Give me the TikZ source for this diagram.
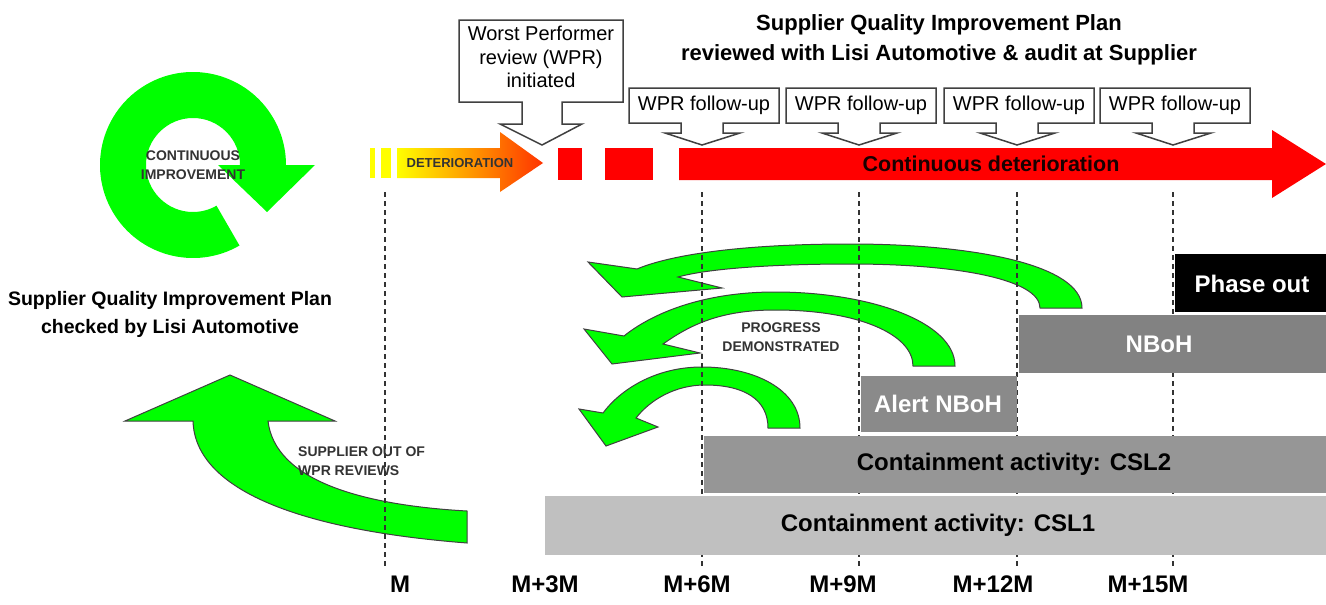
\documentclass[tikz,border=0pt]{standalone}
\usepackage{fontspec}
\setmainfont{Liberation Sans}
\usetikzlibrary{calc}
\definecolor{grn}{HTML}{00FF00}
\definecolor{redc}{HTML}{FF0000}
\definecolor{yel}{HTML}{FFFF00}
\definecolor{csla}{HTML}{C0C0C0}
\definecolor{cslb}{HTML}{969696}
\definecolor{alertc}{HTML}{8A8A8A}
\definecolor{nbohc}{HTML}{828282}
\definecolor{txtgray}{HTML}{333333}
\definecolor{callgray}{HTML}{404040}
\definecolor{linegray}{HTML}{333333}
\definecolor{orng}{HTML}{FF3300}
\tikzset{
  titletext/.style={font=\bfseries\fontsize{22}{30}\selectfont, align=center, inner sep=0pt},
  axislabel/.style={font=\bfseries\fontsize{24}{28}\selectfont, inner sep=0pt},
  boxtext/.style={font=\bfseries\fontsize{24}{28}\selectfont, inner sep=0pt},
  calltext/.style={font=\fontsize{20}{23.5}\selectfont, align=center, inner sep=0pt},
  tinytext/.style={font=\bfseries\fontsize{14}{19}\selectfont, text=txtgray, align=center, inner sep=0pt},
  bar/.style={inner sep=0pt, outer sep=0pt, anchor=north west, draw=none},
  callout/.style={draw=callgray, line width=1.5pt, fill=white, line join=miter},
  vline/.style={draw=linegray, line width=1.5pt, dash pattern=on 5pt off 4pt},
  greenarrow/.style={fill=grn, draw=black!75, line width=1pt, line join=miter},
  pics/wprcall/.style={code={
    \draw[callout] (-73,-17) -- (77,-17) -- (77,18) -- (21,18) -- (21,28) -- (38,28)
      -- (0,40) -- (-37,28) -- (-21,28) -- (-21,18) -- (-73,18) -- cycle;
    \node[calltext] (t) at (2,0) {WPR follow-up};
  }}
}
\begin{document}
\begin{tikzpicture}[x=1pt,y=-1pt]
\useasboundingbox[fill=white] (0,0) rectangle (1326,605);

% ---------- continuous improvement ring ----------
\fill[grn] ($(193,165)+(60:93)$) arc[start angle=60, end angle=360, radius=93]
  -- (315,165) -- (267,212) -- (218,165) -- (240,165)
  arc[start angle=360, end angle=60, radius=47] -- cycle;
\node[tinytext] (ci) at (193,165) {CONTINUOUS\\IMPROVEMENT};

% ---------- left texts ----------
\node[font=\bfseries\fontsize{19.5}{28}\selectfont, align=center, inner sep=0pt] (leftplan) at (170,314)
  {Supplier Quality Improvement Plan\\checked by Lisi Automotive};

% ---------- big left green arrow ----------
\draw[greenarrow] (467,511) .. controls (360,505) and (275,480) .. (268,421)
  -- (335,421) -- (230,375) -- (125,421) -- (193,421)
  .. controls (195,490) and (300,530) .. (467,543) -- cycle;
\node[tinytext, align=left, anchor=west] (outwpr) at (298,461) {SUPPLIER OUT OF\\WPR REVIEWS};

% ---------- curved green arrows ----------
\draw[greenarrow] (1082,308) .. controls (1082,265) and (975,244) .. (850,244)
  .. controls (740,244) and (670,255) .. (637,269)
  -- (588,262) -- (622,297) -- (722,288) -- (678,277)
  .. controls (710,268) and (780,264) .. (850,264)
  .. controls (960,264) and (1040,280) .. (1040,308) -- cycle;
\draw[greenarrow] (955,366) .. controls (955,322) and (870,292) .. (775,292)
  .. controls (700,292) and (650,315) .. (624,336)
  -- (584,329) -- (612,364) -- (700,353) -- (663,344)
  .. controls (690,325) and (720,310) .. (775,310)
  .. controls (860,310) and (913,335) .. (913,366) -- cycle;
\draw[greenarrow] (800,428) .. controls (800,390) and (755,367) .. (702,367)
  .. controls (655,367) and (620,390) .. (603,413)
  -- (579,409) -- (606,446) -- (658,427) -- (636,418)
  .. controls (650,400) and (675,385) .. (705,385)
  .. controls (745,385) and (768,400) .. (768,428) -- cycle;
\node[tinytext] (progress) at (781,337) {PROGRESS\\DEMONSTRATED};

% ---------- dashed time lines ----------
\coordinate (m0a) at (385,192);  \coordinate (m0b) at (385,568);
\coordinate (m6a) at (702,192);  \coordinate (m6b) at (702,568);
\coordinate (m9a) at (859,192);  \coordinate (m9b) at (859,568);
\coordinate (m12a) at (1017,192); \coordinate (m12b) at (1017,568);
\coordinate (m15a) at (1173,192); \coordinate (m15b) at (1173,568);
\draw[vline] (m0a) -- (m0b);
\draw[vline] (m6a) -- (m6b);
\draw[vline] (m9a) -- (m9b);
\draw[vline] (m12a) -- (m12b);
\draw[vline] (m15a) -- (m15b);

% ---------- bars ----------
\node[bar, fill=csla, minimum width=781pt, minimum height=59pt] (csl1) at (545,496) {};
\node[bar, fill=cslb, minimum width=622pt, minimum height=57pt] (csl2) at (704,436) {};
\node[bar, fill=alertc, minimum width=156pt, minimum height=56pt] (alert) at (861,376) {};
\node[bar, fill=nbohc, minimum width=307pt, minimum height=58pt] (nboh) at (1019,315) {};
\node[bar, fill=black, minimum width=151pt, minimum height=58pt] (phase) at (1175,254) {};
\node[boxtext] (csl1t) at (938,525) {Containment activity: CSL1};
\node[boxtext] (csl2t) at (1014,464) {Containment activity: CSL2};
\node[boxtext, text=white] (alertt) at (938,404) {Alert NBoH};
\node[boxtext, text=white] (nboht) at (1159,344) {NBoH};
\node[boxtext, text=white] (phaset) at (1252,284) {Phase out};

% ---------- deterioration band ----------
\fill[yel] (370,148) rectangle (375,178);
\fill[yel] (381,148) rectangle (391,178);
\shade[left color=yel, right color=orng] (397,148) -- (500,148) -- (500,132) -- (543,163)
  -- (500,192) -- (500,178) -- (397,178) -- cycle;
\node[tinytext, font=\bfseries\fontsize{13}{15}\selectfont] (det) at (460,163) {DETERIORATION};
\fill[redc] (558,148) rectangle (582,180);
\fill[redc] (605,148) rectangle (653,180);
\fill[redc] (679,148) -- (1272,148) -- (1272,130) -- (1326,164) -- (1272,198)
  -- (1272,180) -- (679,180) -- cycle;
\node[font=\bfseries\fontsize{21.5}{25}\selectfont, text=black!90!red, inner sep=0pt] (contdet) at (991,164)
  {Continuous deterioration};

% ---------- callouts ----------
\draw[callout] (459,20) -- (623,20) -- (623,102) -- (562,102) -- (562,124) -- (582,124)
  -- (542,145) -- (500,124) -- (522,124) -- (522,102) -- (459,102) -- cycle;
\node[calltext] (wpr) at (541,57) {Worst Performer\\review (WPR)\\initiated};
\pic (f1) at (702,105) {wprcall};
\pic (f2) at (859,105) {wprcall};
\pic (f3) at (1017,105) {wprcall};
\pic (f4) at (1173,105) {wprcall};

% ---------- title ----------
\node[titletext] (title) at (939,40)
  {Supplier Quality Improvement Plan\\reviewed with Lisi Automotive \& audit at Supplier};

% ---------- axis labels ----------
\node[axislabel] (lm) at (400,584) {M};
\node[axislabel] (lm3) at (545,584) {M+3M};
\node[axislabel] (lm6) at (697,584) {M+6M};
\node[axislabel] (lm9) at (843,584) {M+9M};
\node[axislabel] (lm12) at (993,584) {M+12M};
\node[axislabel] (lm15) at (1148,584) {M+15M};
\end{tikzpicture}
\end{document}
